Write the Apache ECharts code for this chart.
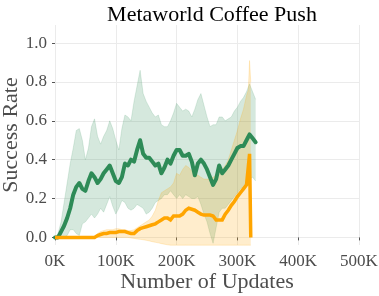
<!DOCTYPE html>
<html><head><meta charset="utf-8">
<script src="https://cdn.jsdelivr.net/npm/echarts@6/dist/echarts.min.js"></script>
<style>html,body{margin:0;padding:0;background:#fff}#c{width:379px;height:296px}</style>
</head><body><div id="c"></div>
<script>
const titleText = 'Metaworld Coffee Push';
const xName = 'Number of Updates';
const yName = 'Success Rate';
const xTicks = [0, 100, 200, 300, 400, 500];
const yTicks = [0, 0.2, 0.4, 0.6, 0.8, 1.0];

// Series 1 (green)
const greenX = [0,5,10,15,20,25,30,35,40,45,50,55,60,65,70,75,80,85,90,95,100,105,110,115,120,125,130,135,140,145,150,155,160,165,170,175,180,185,190,195,200,205,210,215,220,225,230,235,240,245,250,255,260,265,270,275,280,285,290,295,300,305,310,315,320,325,330];
const greenMean = [0,0,0.03,0.06,0.10,0.15,0.22,0.26,0.28,0.25,
  0.24,0.29,0.33,0.31,0.28,0.30,0.33,0.35,0.37,0.33,
  0.29,0.28,0.31,0.38,0.37,0.40,0.39,0.45,0.50,0.43,
  0.41,0.41,0.39,0.37,0.38,0.33,0.36,0.40,0.38,0.42,
  0.45,0.45,0.42,0.42,0.43,0.39,0.32,0.38,0.40,0.38,
  0.35,0.31,0.27,0.30,0.37,0.33,0.35,0.37,0.40,0.43,
  0.46,0.47,0.47,0.50,0.53,0.51,0.49];
const greenLow = [0,0,0,0,0.01,0.04,0.04,0.02,0.01,0.07,
  0.08,0.10,0.12,0.10,0.12,0.15,0.13,0.17,0.21,0.16,
  0.12,0.15,0.19,0.18,0.15,0.14,0.15,0.17,0.16,0.15,
  0.12,0.13,0.15,0.18,0.19,0.20,0.22,0.22,0.24,0.22,
  0.20,0.22,0.20,0.22,0.21,0.20,0.20,0.21,0.17,0.12,
  0.08,0.02,-0.03,0.05,0.13,0.15,0.15,0.17,0.19,0.21,
  0.23,0.25,0.26,0.28,0.30,0.31,0.29];
const greenHigh = [0,0.02,0.08,0.18,0.28,0.38,0.46,0.55,0.56,0.50,
  0.40,0.46,0.57,0.61,0.52,0.48,0.52,0.55,0.60,0.56,
  0.50,0.45,0.56,0.63,0.62,0.60,0.70,0.78,0.86,0.74,
  0.70,0.67,0.64,0.62,0.63,0.58,0.57,0.57,0.60,0.64,
  0.69,0.67,0.65,0.66,0.65,0.62,0.66,0.71,0.74,0.68,
  0.62,0.57,0.58,0.58,0.62,0.62,0.60,0.61,0.62,0.65,
  0.67,0.70,0.72,0.75,0.79,0.75,0.71];

// Series 2 (orange)
const orangeX = [0,5,10,15,20,25,30,35,40,45,50,55,60,65,70,75,80,85,90,95,100,105,110,115,120,125,130,135,140,145,150,155,160,165,170,175,180,185,190,195,200,205,210,215,220,225,230,235,240,245,250,255,260,265,270,275,280,285,290,295,300,305,310,315,318,320,322];
const orangeMean = [0,0,0,0,0,0,0,0,0,0,
  0,0,0,0,0.01,0.015,0.02,0.02,0.025,0.025,
  0.025,0.03,0.03,0.03,0.025,0.02,0.02,0.035,0.045,0.05,
  0.055,0.06,0.065,0.07,0.08,0.09,0.10,0.10,0.09,0.11,
  0.11,0.11,0.12,0.14,0.15,0.145,0.14,0.13,0.12,0.115,
  0.115,0.115,0.11,0.09,0.09,0.09,0.12,0.14,0.165,0.185,
  0.21,0.23,0.25,0.27,0.28,0.43,0.0];
const orangeLow = [0,0,0,0,0,0,0,0,0,0,
  0,0,0,0,0,0,0,0,0,0,
  0,0,0,0,0,-0.003,-0.005,-0.008,-0.01,-0.012,
  -0.015,-0.018,-0.022,-0.025,-0.028,-0.032,-0.035,-0.038,-0.04,-0.04,
  -0.04,-0.04,-0.04,-0.04,-0.04,-0.04,-0.04,-0.04,-0.04,-0.04,
  -0.04,-0.04,-0.04,-0.04,-0.04,-0.04,-0.04,-0.04,-0.04,-0.04,
  -0.04,-0.04,-0.04,-0.04,-0.04,-0.04,-0.04];
const orangeHigh = [0,0,0,0,0,0,0,0,0,0,
  0,0,0,0,0.02,0.03,0.035,0.04,0.04,0.04,
  0.045,0.045,0.04,0.04,0.035,0.035,0.04,0.05,0.06,0.07,
  0.08,0.09,0.11,0.14,0.19,0.23,0.24,0.25,0.26,0.28,
  0.33,0.32,0.35,0.37,0.36,0.34,0.33,0.32,0.31,0.30,
  0.30,0.30,0.31,0.32,0.33,0.35,0.37,0.40,0.45,0.50,
  0.55,0.61,0.66,0.73,0.76,0.91,0.80];

const FONT = "'Liberation Serif', 'Times New Roman', serif";

const pairs = (xs, ys) => xs.map((x, i) => [x, ys[i]]);

function band(xs, lo, hi, fill, edge) {
  return {
    type: 'custom', silent: true, coordinateSystem: 'cartesian2d',
    data: [[xs[0], lo[0]]],
    renderItem: function (params, api) {
      const upper = xs.map((x, i) => api.coord([x, hi[i]]));
      const lower = xs.map((x, i) => api.coord([x, lo[i]]));
      const poly = upper.concat(lower.slice().reverse());
      return {
        type: 'group',
        children: [
          {type: 'polygon', shape: {points: poly}, style: {fill: fill}},
          {type: 'polyline', shape: {points: upper}, style: {stroke: edge, lineWidth: 0.6, fill: null}},
          {type: 'polyline', shape: {points: lower}, style: {stroke: edge, lineWidth: 0.6, fill: null}}
        ]
      };
    }
  };
}

const chart = echarts.init(document.getElementById('c'), null, {renderer: 'canvas'});
chart.setOption({
  animation: false,
  backgroundColor: '#ffffff',
  title: {
    text: titleText, left: 207, textAlign: 'center', top: -1,
    textStyle: {fontFamily: FONT, fontSize: 22, fontWeight: 'normal', color: '#000'}
  },
  grid: {left: 55, right: 20, top: 25, bottom: 51, containLabel: false, outerBoundsMode: 'none'},
  xAxis: {
    type: 'value', min: 0, max: 500, interval: 100,
    name: xName, nameLocation: 'middle', nameGap: 26, nameMoveOverlap: false,
    nameTextStyle: {fontFamily: FONT, fontSize: 22, color: '#4d4d4d'},
    axisLine: {show: false},
    axisTick: {show: true, length: 3, lineStyle: {color: '#555', width: 1}},
    axisLabel: {fontFamily: FONT, fontSize: 17, color: '#4d4d4d', margin: 8,
      formatter: v => v + 'K', customValues: xTicks},
    splitLine: {show: true, lineStyle: {color: '#ebebeb', width: 1}}
  },
  yAxis: {
    type: 'value', min: -0.039, max: 1.093,
    name: yName, nameLocation: 'middle', nameGap: 33, nameMoveOverlap: false,
    nameTextStyle: {fontFamily: FONT, fontSize: 22, color: '#4d4d4d'},
    axisLine: {show: false},
    axisTick: {show: true, length: 3, lineStyle: {color: '#555', width: 1}, customValues: yTicks},
    axisLabel: {fontFamily: FONT, fontSize: 17, color: '#4d4d4d', margin: 8,
      formatter: v => v.toFixed(1), customValues: yTicks},
    splitLine: {show: true, lineStyle: {color: '#ebebeb', width: 1}}
  },
  series: [
    band(greenX, greenLow, greenHigh, 'rgba(46,139,87,0.2)', 'rgba(46,139,87,0.25)'),
    band(orangeX, orangeLow, orangeHigh, 'rgba(255,165,0,0.2)', 'rgba(255,165,0,0.3)'),
    {type: 'line', data: pairs(greenX, greenMean), showSymbol: false, silent: true,
      lineStyle: {color: '#2e8b57', width: 4, cap: 'round', join: 'round'}},
    {type: 'line', data: pairs(orangeX, orangeMean), showSymbol: false, silent: true,
      lineStyle: {color: '#ffa500', width: 3.5, cap: 'butt', join: 'miter'}}
  ]
});
</script></body></html>
